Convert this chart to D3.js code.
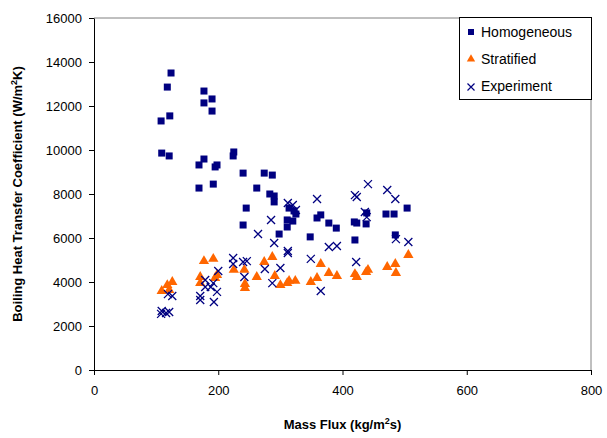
<!DOCTYPE html>
<html lang="en">
<head>
<meta charset="UTF-8">
<title>Boiling Heat Transfer Coefficient vs Mass Flux</title>
<script src="https://d3js.org/d3.v7.min.js"></script>
<style>
    body { margin: 0; background: #fff; }
    svg { font-family: "Liberation Sans", Arial, sans-serif; }
    .tick text { font-size: 13px; fill: #000; }
    .axis-title { font-size: 13px; font-weight: bold; }
    .legend text { font-size: 14px; }
</style>
</head>
<body>
<div id="chart"></div>
<script>
    // Mass flux (kg/m2s), HTC (W/m2K)
    const homogeneous = [
        [124,13500],[118,12860],[177,12680],[190,12320],[177,12140],[190,11770],[122,11550],[108,11320],
        [109,9860],[121,9730],[177,9590],[169,9320],[198,9320],[195,9230],[225,9910],[224,9730],
        [240,8950],[274,8950],[287,8860],[169,8270],[192,8450],[262,8270],[283,8000],[245,7360],
        [240,6590],[290,7910],[290,7640],[314,7360],[322,7230],[325,7090],[311,6820],[320,6770],
        [311,6500],[298,6180],[359,6910],[365,7050],[378,6680],[390,6450],[348,6050],[419,6730],
        [423,6680],[438,6640],[439,7140],[420,5910],[470,7090],[483,7090],[504,7360],[485,6140]
    ];
    const stratified = [
        [177,4950],[192,5050],[126,4000],[118,3860],[109,3590],[121,3640],[171,4230],[171,3950],
        [198,4320],[195,4180],[225,4550],[242,4550],[243,3910],[243,3730],[262,4230],[274,4910],
        [287,5140],[291,4270],[300,3860],[314,4050],[324,4050],[311,3950],[349,4000],[359,4180],
        [365,4820],[378,4410],[391,4270],[420,4360],[423,4230],[438,4450],[441,4550],[472,4680],
        [485,4820],[486,4410],[506,5230]
    ];
    const experiment = [
        [109,2680],[116,2590],[121,2640],[108,2550],[119,3450],[126,3360],[171,3360],[171,3180],
        [179,4090],[179,3770],[188,3770],[192,3950],[198,3550],[193,3090],[200,4500],[224,5090],
        [224,4820],[240,4910],[246,4950],[242,4230],[264,6180],[275,4590],[285,6820],[287,3950],
        [290,5770],[312,5410],[312,5320],[300,4640],[349,5050],[378,5590],[391,5640],[365,3590],
        [422,4910],[436,7180],[506,5820],[486,5950],[441,8450],[472,8180],[485,7770],[420,7950],
        [423,7860],[359,7770],[312,7590],[320,7500],[325,7270],[439,6950]
    ];
    const xTicks = [0, 200, 400, 600, 800];
    const yTicks = [0, 2000, 4000, 6000, 8000, 10000, 12000, 14000, 16000];
    const seriesNames = ["Homogeneous", "Stratified", "Experiment"];

    const width = 607, height = 438;
    const margin = { left: 94, right: 16, top: 18, bottom: 68 };

    const svg = d3.select("#chart").append("svg")
        .attr("width", width)
        .attr("height", height);

    const x = d3.scaleLinear().domain([0, 800]).range([margin.left, width - margin.right]);
    const y = d3.scaleLinear().domain([0, 16000]).range([height - margin.bottom, margin.top]);

    // plot frame (top and right edges)
    svg.append("path")
        .attr("d", `M${x(0)},${y(16000)}H${x(800)}V${y(0)}`)
        .attr("fill", "none")
        .attr("stroke", "#808080")
        .attr("stroke-width", 1);

    svg.append("g")
        .attr("transform", `translate(0,${y(0)})`)
        .call(d3.axisBottom(x).tickValues(xTicks).tickSize(5).tickPadding(11).tickSizeOuter(0));

    svg.append("g")
        .attr("transform", `translate(${x(0)},0)`)
        .call(d3.axisLeft(y).tickValues(yTicks).tickSize(5).tickPadding(7).tickFormat(d3.format("d")).tickSizeOuter(0));

    svg.selectAll(".domain, .tick line").attr("stroke", "#000");

    // axis titles
    const xt = svg.append("text")
        .attr("class", "axis-title")
        .attr("x", (x(0) + x(800)) / 2)
        .attr("y", 429)
        .attr("text-anchor", "middle");
    xt.append("tspan").text("Mass Flux (kg/m");
    xt.append("tspan").attr("dy", -5).attr("font-size", 9).text("2");
    xt.append("tspan").attr("dy", 5).text("s)");

    const yt = svg.append("text")
        .attr("class", "axis-title")
        .attr("transform", `translate(22,${(y(0) + y(16000)) / 2}) rotate(-90)`)
        .attr("text-anchor", "middle");
    yt.append("tspan").text("Boiling Heat Transfer Coefficient (W/m");
    yt.append("tspan").attr("dy", -5).attr("font-size", 9).text("2");
    yt.append("tspan").attr("dy", 5).text("K)");

    const navy = "#000080", orange = "#FF6600";
    const tri = d3.symbol().type(d3.symbolTriangle).size(46);

    // stratified
    svg.append("g").selectAll("path")
        .data(stratified).join("path")
        .attr("d", tri)
        .attr("transform", d => `translate(${x(d[0])},${y(d[1])})`)
        .attr("fill", orange);

    // homogeneous
    svg.append("g").selectAll("rect")
        .data(homogeneous).join("rect")
        .attr("x", d => x(d[0]) - 3.5)
        .attr("y", d => y(d[1]) - 3.5)
        .attr("width", 7)
        .attr("height", 7)
        .attr("fill", navy);

    // experiment
    const cross = "M-4,-4L4,4M-4,4L4,-4";
    svg.append("g").selectAll("path")
        .data(experiment).join("path")
        .attr("d", cross)
        .attr("transform", d => `translate(${x(d[0])},${y(d[1])})`)
        .attr("fill", "none")
        .attr("stroke", navy)
        .attr("stroke-width", 1.3);

    // legend
    const lg = svg.append("g").attr("class", "legend");
    lg.append("rect")
        .attr("x", 459.5).attr("y", 17.5)
        .attr("width", 132).attr("height", 82)
        .attr("fill", "#fff").attr("stroke", "#000");
    const rowY = [32, 59, 86];
    seriesNames.forEach((name, i) => {
        const cy = rowY[i], cx = 471;
        if (i === 0) {
            lg.append("rect").attr("x", cx - 3).attr("y", cy - 3).attr("width", 6).attr("height", 6).attr("fill", navy);
        } else if (i === 1) {
            lg.append("path").attr("d", d3.symbol().type(d3.symbolTriangle).size(30))
                .attr("transform", `translate(${cx},${cy})`).attr("fill", orange);
        } else {
            lg.append("path").attr("d", "M-3.5,-3.5L3.5,3.5M-3.5,3.5L3.5,-3.5")
                .attr("transform", `translate(${cx},${cy + 1})`)
                .attr("stroke", navy).attr("stroke-width", 1.2).attr("fill", "none");
        }
        lg.append("text").attr("x", 481).attr("y", cy + 5).text(name);
    });
</script>
</body>
</html>
